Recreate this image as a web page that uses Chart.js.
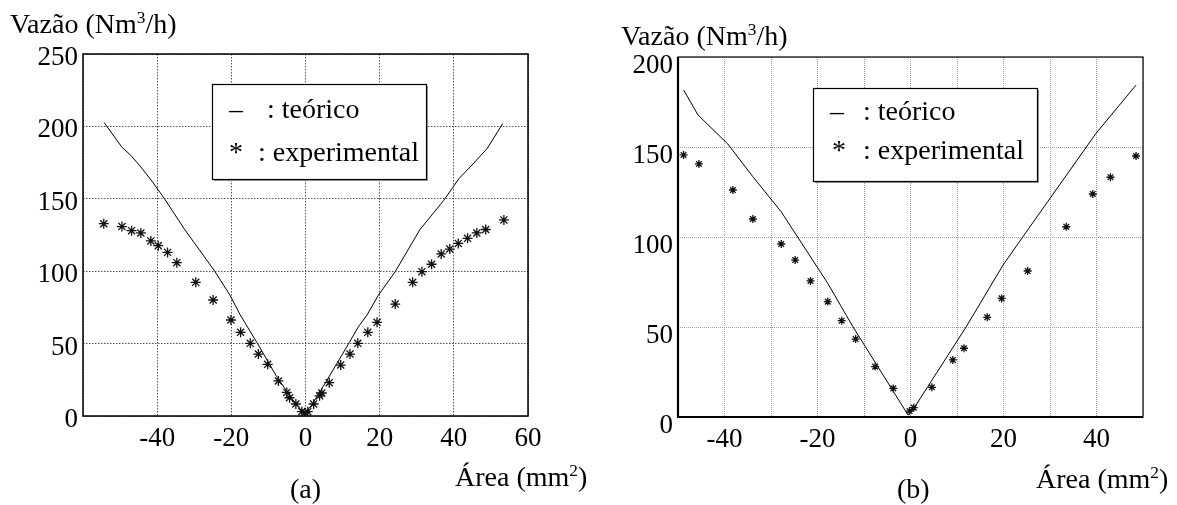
<!DOCTYPE html>
<html><head><meta charset="utf-8">
<script src="https://cdn.jsdelivr.net/npm/chart.js@4"></script>
<style>
html,body{margin:0;padding:0;background:#fff;}
body{width:1177px;height:505px;position:relative;overflow:hidden;font-family:"Liberation Serif","Times New Roman",serif;color:#000;}
canvas{position:absolute;top:0;}
.t{position:absolute;font-size:28px;white-space:nowrap;line-height:1;}
.t sup{font-size:62%;vertical-align:0;position:relative;top:-0.55em;line-height:0;}
</style></head><body>
<canvas id="ca" width="590" height="470" style="left:0"></canvas>
<canvas id="cb" width="587" height="470" style="left:590px"></canvas>
<div class="t" style="left:10px;top:10px">Vazão (Nm<sup>3</sup>/h)</div>
<div class="t" style="left:455px;top:463px">Área (mm<sup>2</sup>)</div>
<div class="t" style="left:290px;top:475px">(a)</div>
<div class="t" style="left:621px;top:22px">Vazão (Nm<sup>3</sup>/h)</div>
<div class="t" style="left:1036px;top:465px">Área (mm<sup>2</sup>)</div>
<div class="t" style="left:897px;top:475px">(b)</div>
<script>
// ---------- data ----------
const seriesLabels = ['teórico', 'experimental'];
const legendSymbols = ['–', '*'];

// chart (a)
const theoA_x = [-54.3, -49.5, -47.1, -44.4, -41.3, -38.1, -32.5, -24.4, -20.4, -17.6, -12.7, -7.75, -3.7, -0.4, 1.7, 5.3, 9.8, 14.3, 16.6, 19.7, 24.2, 30.8, 37.3, 41.4, 44.9, 49.0, 53.2];
const theoA_y = [202.6, 185.6, 180.0, 172.0, 161.8, 150.3, 128.5, 99.7, 83.6, 69.8, 49.0, 27.1, 12.2, 1.5, 7.6, 22.6, 42.0, 61.7, 69.8, 83.6, 99.7, 128.5, 149.0, 164.0, 173.3, 184.8, 202.0];
const expA_x = [-54.4, -49.5, -46.9, -44.4, -41.7, -39.7, -37.2, -34.7, -29.6, -24.9, -20.1, -17.5, -14.9, -12.7, -10.2, -7.3, -5.05, -4.3, -2.6, -1.0, -0.1, 0.6, 2.2, 3.8, 4.4, 6.4, 9.5, 12.0, 14.1, 16.8, 19.3, 24.2, 28.9, 31.4, 34.0, 36.6, 38.9, 41.2, 43.7, 46.2, 48.6, 53.5];
const expA_y = [132.8, 130.8, 128.0, 126.4, 120.9, 117.6, 113.0, 105.9, 92.3, 80.1, 66.3, 57.8, 50.2, 42.8, 35.7, 24.2, 16.3, 12.6, 8.3, 3.0, 2.3, 3.0, 8.3, 13.9, 15.9, 23.0, 35.2, 42.8, 50.2, 57.8, 64.7, 77.3, 92.3, 99.7, 104.8, 111.9, 115.3, 119.2, 122.7, 126.4, 128.8, 135.4];
const xTickLabelsA = [-40, -20, 0, 20, 40, 60];
const yTickLabelsA = [0, 50, 100, 150, 200, 250];

// chart (b)
const theoB_x = [-48.8, -45.7, -39.3, -33.9, -27.8, -17.8, -12.4, -0.5, 0.5, 12.0, 19.9, 25.2, 39.9, 48.5];
const theoB_y = [181.7, 167.8, 151.7, 133.5, 114.0, 74.3, 50.2, 1.0, 3.9, 50.2, 84.4, 103.9, 157.6, 184.4];
const expB_x = [-48.8, -45.5, -38.2, -33.9, -27.8, -24.8, -21.5, -17.8, -14.8, -11.8, -7.6, -3.7, -0.2, 0.7, 4.6, 9.1, 11.5, 16.5, 19.6, 25.2, 33.5, 39.2, 43.0, 48.5];
const expB_y = [145.6, 140.6, 126.1, 110.0, 96.1, 87.2, 75.6, 64.1, 53.5, 43.3, 28.0, 15.9, 3.3, 5.2, 16.5, 31.7, 38.2, 55.4, 65.9, 81.1, 105.7, 123.9, 133.2, 145.0];
const xTickLabelsB = [-40, -20, 0, 20, 40];
const yTickLabelsB = [0, 50, 100, 150, 200];

// ---------- helpers ----------
const pts = (xs, ys) => xs.map((x, i) => ({x: x, y: ys[i]}));
const FONT = '"Liberation Serif", "Times New Roman", serif';
Chart.defaults.font.family = FONT;
Chart.defaults.color = '#000';

const framePlugin = {
  id: 'frameLegend',
  afterDatasetsDraw(chart, args, o) {
    const ctx = chart.ctx, a = chart.chartArea;
    ctx.save();
    ctx.strokeStyle = '#000';
    ctx.lineWidth = o.frameWidth;
    ctx.strokeRect(a.left, a.top, a.right - a.left, a.bottom - a.top);
    if (o.thickLB) {
      ctx.lineWidth = o.thickLB;
      ctx.beginPath();
      ctx.moveTo(a.left, a.top); ctx.lineTo(a.left, a.bottom); ctx.lineTo(a.right, a.bottom);
      ctx.stroke();
    }
    const b = o.box;
    ctx.fillStyle = '#9a9a9a';
    ctx.fillRect(b[0] + 2, b[1] + 2, b[2], b[3]);
    ctx.fillStyle = '#fff';
    ctx.fillRect(b[0], b[1], b[2], b[3]);
    ctx.lineWidth = 1.2;
    ctx.strokeStyle = '#000';
    ctx.strokeRect(b[0] + 0.5, b[1] + 0.5, b[2], b[3]);
    ctx.fillStyle = '#000';
    ctx.font = '28px ' + FONT;
    ctx.textBaseline = 'alphabetic';
    ctx.textAlign = 'left';
    chart.data.datasets.forEach((ds, i) => {
      const r = o.rows[i];
      ctx.fillText(legendSymbols[i], r[0], r[2]);
      ctx.fillText(': ' + ds.label, r[1], r[2]);
    });
    ctx.restore();
  }
};

function makeChart(id, c) {
  return new Chart(document.getElementById(id), {
    type: 'scatter',
    data: {
      datasets: [
        {label: seriesLabels[0], data: pts(c.tx, c.ty), showLine: true, borderColor: '#000', borderWidth: 1,
         pointRadius: 0, tension: 0, order: 2},
        {label: seriesLabels[1], data: pts(c.ex, c.ey), showLine: false, pointStyle: 'star',
         pointRadius: c.pr, borderColor: '#111', backgroundColor: '#000', borderWidth: 1.3, order: 1}
      ]
    },
    options: {
      responsive: false, animation: false, devicePixelRatio: 1,
      layout: {padding: c.pad},
      plugins: {legend: {display: false}, tooltip: {enabled: false},
        frameLegend: {box: c.box, rows: c.rows, frameWidth: c.fw, thickLB: c.thick}},
      scales: {
        x: {type: 'linear', min: c.xmin, max: c.xmax,
            ticks: {stepSize: c.xstep, font: {size: 27}, color: '#000', padding: 7, maxRotation: 0,
                    autoSkip: false,
                    callback: v => c.xl.includes(v) ? String(v) : ''},
            grid: {color: c.gc, lineWidth: 1, drawTicks: false},
            border: {display: false, dash: c.dash},
            afterFit: s => { s.height = 40; }},
        y: {type: 'linear', min: 0, max: c.ymax,
            ticks: {stepSize: 50, font: {size: 27}, color: '#000', padding: 5, labelOffset: c.lo,
                    callback: v => c.yl.includes(v) ? String(v) : ''},
            grid: {color: c.gc, lineWidth: 1, drawTicks: false},
            border: {display: false, dash: c.dash},
            afterFit: s => { s.width = c.yw; }}
      }
    },
    plugins: [framePlugin]
  });
}

makeChart('ca', {
  tx: theoA_x, ty: theoA_y, ex: expA_x, ey: expA_y, xl: xTickLabelsA, yl: yTickLabelsA,
  xmin: -60, xmax: 60, xstep: 20, ymax: 250, yw: 83, lo: 4,
  pad: {left: 0, top: 54, right: 62, bottom: 14},
  gc: '#555', dash: [1.5, 1.5], fw: 1.5, thick: 0, pr: 5,
  box: [212, 84, 214, 95], rows: [[229, 267, 118], [229, 258, 161]]
});
makeChart('cb', {
  tx: theoB_x, ty: theoB_y, ex: expB_x, ey: expB_y, xl: xTickLabelsB, yl: yTickLabelsB,
  xmin: -50, xmax: 50, xstep: 10, ymax: 200, yw: 88, lo: 9,
  pad: {left: 0, top: 57, right: 34, bottom: 13},
  gc: '#a0a0a0', dash: [1, 1], fw: 1.2, thick: 2.2, pr: 4,
  box: [223, 88, 224, 93], rows: [[240, 273, 120], [242, 273, 159]]
});
</script>
</body></html>
